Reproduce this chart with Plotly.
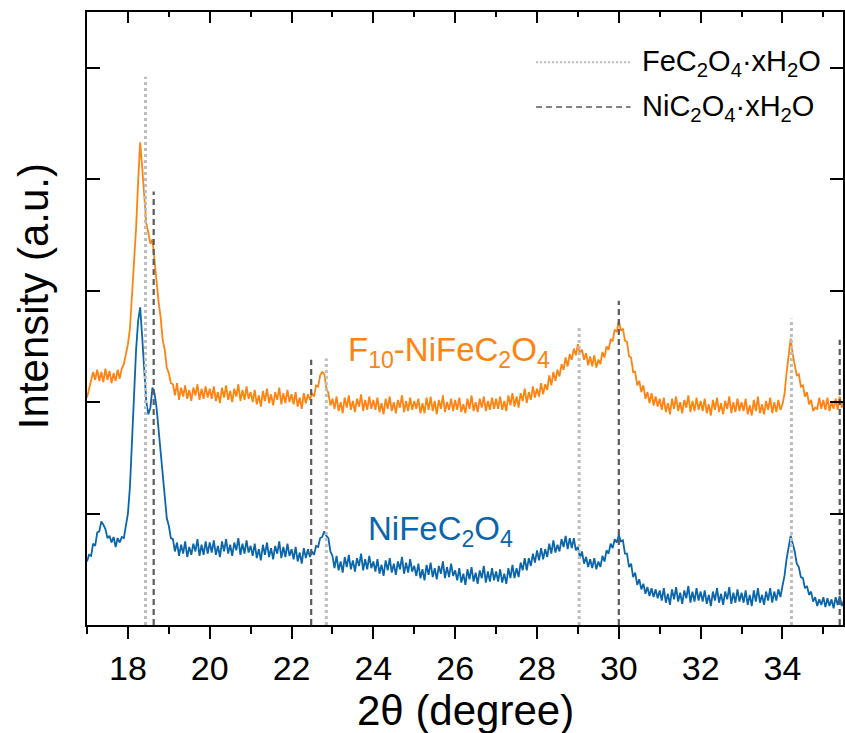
import plotly.graph_objects as go

# ---------------- data ----------------
two_theta = [
    17.00, 17.05, 17.10, 17.15, 17.20, 17.25, 17.30, 17.35, 17.40, 17.45, 17.50, 17.55, 17.60, 17.65, 17.70, 17.75, 17.80, 17.85, 17.90, 17.95,
    18.00, 18.05, 18.10, 18.15, 18.20, 18.25, 18.30, 18.35, 18.40, 18.45, 18.50, 18.55, 18.60, 18.65, 18.70, 18.75, 18.80, 18.85, 18.90, 18.95,
    19.00, 19.05, 19.10, 19.15, 19.20, 19.25, 19.30, 19.35, 19.40, 19.45, 19.50, 19.55, 19.60, 19.65, 19.70, 19.75, 19.80, 19.85, 19.90, 19.95,
    20.00, 20.05, 20.10, 20.15, 20.20, 20.25, 20.30, 20.35, 20.40, 20.45, 20.50, 20.55, 20.60, 20.65, 20.70, 20.75, 20.80, 20.85, 20.90, 20.95,
    21.00, 21.05, 21.10, 21.15, 21.20, 21.25, 21.30, 21.35, 21.40, 21.45, 21.50, 21.55, 21.60, 21.65, 21.70, 21.75, 21.80, 21.85, 21.90, 21.95,
    22.00, 22.05, 22.10, 22.15, 22.20, 22.25, 22.30, 22.35, 22.40, 22.45, 22.50, 22.55, 22.60, 22.65, 22.70, 22.75, 22.80, 22.85, 22.90, 22.95,
    23.00, 23.05, 23.10, 23.15, 23.20, 23.25, 23.30, 23.35, 23.40, 23.45, 23.50, 23.55, 23.60, 23.65, 23.70, 23.75, 23.80, 23.85, 23.90, 23.95,
    24.00, 24.05, 24.10, 24.15, 24.20, 24.25, 24.30, 24.35, 24.40, 24.45, 24.50, 24.55, 24.60, 24.65, 24.70, 24.75, 24.80, 24.85, 24.90, 24.95,
    25.00, 25.05, 25.10, 25.15, 25.20, 25.25, 25.30, 25.35, 25.40, 25.45, 25.50, 25.55, 25.60, 25.65, 25.70, 25.75, 25.80, 25.85, 25.90, 25.95,
    26.00, 26.05, 26.10, 26.15, 26.20, 26.25, 26.30, 26.35, 26.40, 26.45, 26.50, 26.55, 26.60, 26.65, 26.70, 26.75, 26.80, 26.85, 26.90, 26.95,
    27.00, 27.05, 27.10, 27.15, 27.20, 27.25, 27.30, 27.35, 27.40, 27.45, 27.50, 27.55, 27.60, 27.65, 27.70, 27.75, 27.80, 27.85, 27.90, 27.95,
    28.00, 28.05, 28.10, 28.15, 28.20, 28.25, 28.30, 28.35, 28.40, 28.45, 28.50, 28.55, 28.60, 28.65, 28.70, 28.75, 28.80, 28.85, 28.90, 28.95,
    29.00, 29.05, 29.10, 29.15, 29.20, 29.25, 29.30, 29.35, 29.40, 29.45, 29.50, 29.55, 29.60, 29.65, 29.70, 29.75, 29.80, 29.85, 29.90, 29.95,
    30.00, 30.05, 30.10, 30.15, 30.20, 30.25, 30.30, 30.35, 30.40, 30.45, 30.50, 30.55, 30.60, 30.65, 30.70, 30.75, 30.80, 30.85, 30.90, 30.95,
    31.00, 31.05, 31.10, 31.15, 31.20, 31.25, 31.30, 31.35, 31.40, 31.45, 31.50, 31.55, 31.60, 31.65, 31.70, 31.75, 31.80, 31.85, 31.90, 31.95,
    32.00, 32.05, 32.10, 32.15, 32.20, 32.25, 32.30, 32.35, 32.40, 32.45, 32.50, 32.55, 32.60, 32.65, 32.70, 32.75, 32.80, 32.85, 32.90, 32.95,
    33.00, 33.05, 33.10, 33.15, 33.20, 33.25, 33.30, 33.35, 33.40, 33.45, 33.50, 33.55, 33.60, 33.65, 33.70, 33.75, 33.80, 33.85, 33.90, 33.95,
    34.00, 34.05, 34.10, 34.15, 34.20, 34.25, 34.30, 34.35, 34.40, 34.45, 34.50, 34.55, 34.60, 34.65, 34.70, 34.75, 34.80, 34.85, 34.90, 34.95,
    35.00, 35.05, 35.10, 35.15, 35.20, 35.25, 35.30, 35.35, 35.40, 35.45, 35.50,
]

f10_nifec2o4 = [
    2.04, 2.12, 2.17, 2.27, 2.20, 2.29, 2.19, 2.27, 2.18, 2.30, 2.20, 2.28, 2.17, 2.26, 2.19, 2.29, 2.21, 2.30, 2.34, 2.44,
    2.52, 2.66, 2.94, 3.18, 3.56, 3.98, 4.33, 4.10, 3.86, 3.60, 3.52, 3.42, 3.46, 3.26, 3.12, 2.90, 2.76, 2.56, 2.47, 2.31,
    2.26, 2.17, 2.16, 2.06, 2.17, 2.02, 2.13, 2.05, 2.15, 2.03, 2.11, 2.01, 2.13, 2.06, 2.16, 2.02, 2.12, 2.03, 2.14, 2.04,
    2.12, 2.03, 2.14, 2.01, 2.09, 1.99, 2.13, 2.04, 2.15, 2.02, 2.10, 2.00, 2.12, 2.05, 2.16, 2.01, 2.11, 2.02, 2.14, 2.03,
    2.09, 2.00, 2.11, 1.98, 2.06, 1.96, 2.10, 2.01, 2.12, 1.99, 2.07, 1.97, 2.09, 2.02, 2.13, 1.98, 2.08, 1.99, 2.11, 2.00,
    2.07, 1.98, 2.09, 1.96, 2.04, 1.94, 2.08, 1.99, 2.07, 2.02, 2.08, 2.05, 2.15, 2.14, 2.24, 2.27, 2.25, 2.13, 2.08, 1.97,
    2.03, 1.94, 2.05, 1.92, 2.00, 1.90, 2.04, 1.95, 2.06, 1.93, 2.01, 1.91, 2.03, 1.96, 2.07, 1.92, 2.02, 1.93, 2.05, 1.94,
    2.02, 1.93, 2.04, 1.91, 1.99, 1.89, 2.03, 1.94, 2.05, 1.92, 2.00, 1.90, 2.02, 1.95, 2.06, 1.91, 2.01, 1.92, 2.04, 1.93,
    2.01, 1.94, 2.03, 1.90, 1.99, 1.90, 2.04, 1.93, 2.05, 1.92, 2.01, 1.89, 2.02, 1.94, 2.06, 1.91, 2.00, 1.93, 2.03, 1.92,
    2.02, 1.93, 2.04, 1.91, 1.98, 1.90, 2.03, 1.94, 2.06, 1.92, 2.00, 1.91, 2.03, 1.95, 2.05, 1.92, 2.01, 1.93, 2.04, 1.94,
    2.03, 1.94, 2.05, 1.93, 2.01, 1.92, 2.06, 1.97, 2.08, 1.96, 2.05, 1.95, 2.08, 2.01, 2.12, 1.99, 2.09, 2.02, 2.14, 2.04,
    2.12, 2.05, 2.17, 2.07, 2.16, 2.11, 2.24, 2.15, 2.27, 2.19, 2.29, 2.23, 2.34, 2.29, 2.40, 2.32, 2.43, 2.38, 2.48, 2.42,
    2.52, 2.44, 2.47, 2.38, 2.44, 2.33, 2.41, 2.32, 2.42, 2.31, 2.38, 2.34, 2.45, 2.40, 2.50, 2.47, 2.56, 2.55, 2.65, 2.63,
    2.73, 2.64, 2.66, 2.55, 2.54, 2.41, 2.40, 2.27, 2.27, 2.15, 2.19, 2.09, 2.15, 2.03, 2.09, 1.99, 2.08, 1.97, 2.05, 1.96,
    2.03, 1.93, 2.04, 1.91, 1.99, 1.89, 2.03, 1.94, 2.05, 1.92, 2.00, 1.90, 2.02, 1.95, 2.06, 1.91, 2.01, 1.92, 2.04, 1.93,
    2.01, 1.92, 2.03, 1.90, 1.98, 1.88, 2.02, 1.93, 2.04, 1.91, 1.99, 1.89, 2.01, 1.94, 2.05, 1.90, 2.00, 1.91, 2.03, 1.92,
    2.00, 1.92, 2.03, 1.89, 1.97, 1.88, 2.02, 1.92, 2.05, 1.90, 1.98, 1.89, 2.01, 1.93, 2.04, 1.90, 2.00, 1.91, 2.02, 1.93,
    1.98, 2.07, 2.26, 2.42, 2.57, 2.43, 2.34, 2.24, 2.25, 2.14, 2.15, 2.05, 2.09, 1.98, 2.02, 1.92, 1.95, 1.94, 2.04, 1.94,
    2.02, 1.93, 2.04, 1.92, 2.00, 1.94, 2.03, 1.93, 2.05, 1.95, 2.01,
]

nifec2o4 = [
    0.57, 0.63, 0.62, 0.73, 0.71, 0.83, 0.84, 0.93, 0.90, 0.86, 0.78, 0.80, 0.74, 0.79, 0.70, 0.78, 0.74, 0.79, 0.78, 0.89,
    1.00, 1.24, 1.66, 2.03, 2.47, 2.73, 2.85, 2.58, 2.27, 2.00, 1.89, 1.95, 2.13, 2.08, 1.95, 1.76, 1.60, 1.34, 1.16, 0.96,
    0.89, 0.78, 0.77, 0.66, 0.74, 0.62, 0.72, 0.64, 0.75, 0.61, 0.70, 0.63, 0.73, 0.66, 0.77, 0.62, 0.72, 0.63, 0.75, 0.64,
    0.74, 0.65, 0.76, 0.63, 0.71, 0.61, 0.75, 0.66, 0.77, 0.64, 0.72, 0.62, 0.74, 0.67, 0.78, 0.63, 0.73, 0.64, 0.76, 0.65,
    0.71, 0.62, 0.73, 0.60, 0.68, 0.58, 0.72, 0.63, 0.74, 0.61, 0.69, 0.59, 0.71, 0.64, 0.75, 0.60, 0.70, 0.61, 0.73, 0.62,
    0.68, 0.59, 0.70, 0.57, 0.65, 0.55, 0.69, 0.60, 0.68, 0.61, 0.66, 0.63, 0.71, 0.70, 0.78, 0.79, 0.84, 0.80, 0.78, 0.66,
    0.62, 0.51, 0.62, 0.49, 0.57, 0.47, 0.61, 0.52, 0.63, 0.50, 0.58, 0.48, 0.60, 0.53, 0.64, 0.49, 0.59, 0.50, 0.62, 0.51,
    0.57, 0.48, 0.59, 0.46, 0.54, 0.44, 0.58, 0.49, 0.60, 0.47, 0.55, 0.45, 0.57, 0.50, 0.61, 0.46, 0.56, 0.47, 0.59, 0.48,
    0.53, 0.44, 0.55, 0.42, 0.50, 0.40, 0.54, 0.45, 0.56, 0.43, 0.51, 0.41, 0.53, 0.46, 0.57, 0.42, 0.52, 0.43, 0.55, 0.44,
    0.49, 0.40, 0.51, 0.38, 0.46, 0.36, 0.50, 0.41, 0.52, 0.39, 0.47, 0.37, 0.49, 0.42, 0.53, 0.38, 0.48, 0.39, 0.51, 0.40,
    0.48, 0.39, 0.50, 0.38, 0.46, 0.37, 0.51, 0.42, 0.54, 0.42, 0.51, 0.43, 0.56, 0.49, 0.60, 0.49, 0.60, 0.53, 0.64, 0.56,
    0.67, 0.58, 0.69, 0.59, 0.68, 0.61, 0.73, 0.64, 0.76, 0.65, 0.72, 0.66, 0.77, 0.70, 0.80, 0.68, 0.78, 0.69, 0.78, 0.67,
    0.70, 0.60, 0.66, 0.55, 0.61, 0.52, 0.59, 0.51, 0.60, 0.50, 0.57, 0.52, 0.62, 0.57, 0.67, 0.64, 0.73, 0.69, 0.77, 0.74,
    0.81, 0.75, 0.76, 0.64, 0.64, 0.52, 0.55, 0.43, 0.47, 0.36, 0.41, 0.32, 0.37, 0.28, 0.34, 0.26, 0.33, 0.25, 0.32, 0.24,
    0.31, 0.22, 0.33, 0.20, 0.28, 0.18, 0.32, 0.23, 0.34, 0.21, 0.29, 0.19, 0.31, 0.24, 0.35, 0.20, 0.30, 0.21, 0.33, 0.22,
    0.30, 0.21, 0.31, 0.19, 0.27, 0.17, 0.30, 0.22, 0.33, 0.20, 0.28, 0.18, 0.30, 0.23, 0.34, 0.19, 0.29, 0.20, 0.32, 0.21,
    0.29, 0.20, 0.31, 0.18, 0.27, 0.17, 0.31, 0.21, 0.33, 0.20, 0.27, 0.18, 0.30, 0.22, 0.33, 0.20, 0.30, 0.22, 0.32, 0.25,
    0.35, 0.44, 0.59, 0.71, 0.80, 0.73, 0.66, 0.55, 0.52, 0.43, 0.42, 0.33, 0.35, 0.27, 0.30, 0.21, 0.25, 0.17, 0.23, 0.18,
    0.25, 0.16, 0.24, 0.17, 0.23, 0.15, 0.25, 0.18, 0.26, 0.17, 0.22,
]

# reference peak positions (2theta) and the height their marker lines reach
fe_ref_pos = [18.43, 22.85, 29.03, 34.22]
fe_ref_top = [4.92, 2.39, 2.68, 2.75]
ni_ref_pos = [18.63, 22.48, 30.00, 35.40]
ni_ref_top = [3.89, 2.38, 2.91, 2.56]

x_ticks = [18, 20, 22, 24, 26, 28, 30, 32, 34]
series_names = ["F<sub>10</sub>-NiFeC<sub>2</sub>O<sub>4</sub>", "NiFeC<sub>2</sub>O<sub>4</sub>"]
ref_names = ["FeC<sub>2</sub>O<sub>4</sub>·xH<sub>2</sub>O", "NiC<sub>2</sub>O<sub>4</sub>·xH<sub>2</sub>O"]

# ---------------- styling ----------------
FONT = "Liberation Sans, Arial, Helvetica, sans-serif"
ORANGE = "#FF830F"
BLUE = "#0A66AC"
FE_GRAY = "#BDBDBD"
NI_GRAY = "#5A5A5A"


def vlines(pos, top):
    xs, ys = [], []
    for p, t in zip(pos, top):
        xs += [p, p, None]
        ys += [0, t, None]
    return xs, ys


fig = go.Figure()
fig.add_trace(go.Scatter(x=two_theta, y=nifec2o4, mode="lines",
                         line=dict(color=BLUE, width=1.8), name=series_names[1]))
fig.add_trace(go.Scatter(x=two_theta, y=f10_nifec2o4, mode="lines",
                         line=dict(color=ORANGE, width=1.8), name=series_names[0]))

fx, fy = vlines(fe_ref_pos, fe_ref_top)
nx, ny = vlines(ni_ref_pos, ni_ref_top)
fig.add_trace(go.Scatter(x=fx, y=fy, mode="lines", xaxis="x2",
                         line=dict(color=FE_GRAY, width=3, dash="3px,3px"),
                         name=ref_names[0]))
fig.add_trace(go.Scatter(x=nx, y=ny, mode="lines", xaxis="x2",
                         line=dict(color=NI_GRAY, width=2.2, dash="6px,4px"),
                         name=ref_names[1]))

XR = [17, 35.48]
fig.update_layout(
    width=845, height=733,
    margin=dict(l=87, r=0, t=12, b=108),
    paper_bgcolor="white", plot_bgcolor="white",
    showlegend=False,
    font=dict(family=FONT, color="black"),
    xaxis=dict(range=XR, tickmode="array", tickvals=x_ticks,
               ticks="outside", ticklen=12, tickwidth=2, tickcolor="black",
               minor=dict(dtick=1, tick0=17, ticks="outside", ticklen=7,
                          tickwidth=2, tickcolor="black"),
               showline=True, linewidth=2, linecolor="black", mirror=True,
               showgrid=False, zeroline=False,
               tickfont=dict(size=34, family=FONT)),
    xaxis2=dict(range=XR, overlaying="x", side="top", tickmode="array",
                tickvals=x_ticks, ticks="inside", ticklen=11, tickwidth=2,
                tickcolor="black", showticklabels=False,
                minor=dict(dtick=1, tick0=17, ticks="inside", ticklen=5,
                           tickwidth=2, tickcolor="black"),
                showline=False, showgrid=False, zeroline=False),
    yaxis=dict(range=[0, 5.5], tick0=0, dtick=1, ticks="inside", ticklen=13,
               tickwidth=2, tickcolor="black", showticklabels=False,
               showline=True, linewidth=2, linecolor="black", mirror="ticks",
               showgrid=False, zeroline=False),
)

annotations = [
    # axis titles
    dict(text="2θ (degree)", xref="paper", yref="paper", x=0.5, y=-0.139,
         xanchor="center", yanchor="middle", showarrow=False,
         font=dict(size=42, family=FONT)),
    dict(text="Intensity (a.u.)", xref="paper", yref="paper", x=-0.071, y=0.537,
         xanchor="center", yanchor="middle", textangle=-90, showarrow=False,
         font=dict(size=42, family=FONT)),
    # sample labels
    dict(text=series_names[0], x=25.86, y=2.45, xref="x", yref="y",
         showarrow=False, font=dict(size=33, color=ORANGE, family=FONT)),
    dict(text=series_names[1], x=25.65, y=0.84, xref="x", yref="y",
         showarrow=False, font=dict(size=33, color=BLUE, family=FONT)),
    # legend texts
    dict(text=ref_names[0], xref="paper", yref="paper", x=0.731, y=0.916,
         xanchor="left", yanchor="middle", showarrow=False,
         font=dict(size=29, family=FONT)),
    dict(text=ref_names[1], xref="paper", yref="paper", x=0.731, y=0.843,
         xanchor="left", yanchor="middle", showarrow=False,
         font=dict(size=29, family=FONT)),
]
fig.update_layout(annotations=annotations)

fig.update_layout(shapes=[
    dict(type="line", xref="paper", yref="paper", x0=0.594, x1=0.719,
         y0=0.918, y1=0.918, line=dict(color=FE_GRAY, width=2, dash="2px,2px")),
    dict(type="line", xref="paper", yref="paper", x0=0.594, x1=0.719,
         y0=0.845, y1=0.845, line=dict(color=NI_GRAY, width=1.5, dash="6px,4px")),
])

fig.write_html("out.html")
